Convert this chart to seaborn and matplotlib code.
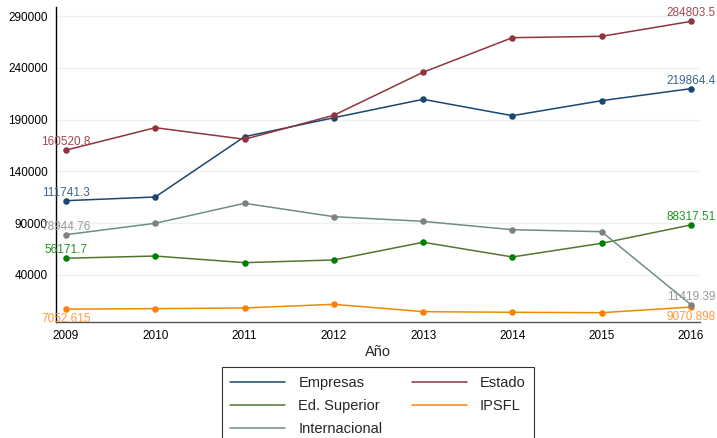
import pandas as pd
import matplotlib
matplotlib.use('Agg')
import matplotlib.pyplot as plt
import seaborn as sns

# Datos
anios = [2009, 2010, 2011, 2012, 2013, 2014, 2015, 2016]
empresas = [111741.3, 115300, 173500, 191800, 209600, 193800, 208300, 219864.4]
estado = [160520.8, 182200, 171000, 194200, 235700, 269100, 270400, 284803.5]
ed_superior = [56171.7, 58300, 51900, 54500, 71600, 57400, 70600, 88317.51]
ipsfl = [7052.615, 7500, 8150, 11700, 4600, 4000, 3600, 9070.898]
internacional = [78944.76, 89900, 109200, 96300, 91800, 83700, 81800, 11419.39]

y_ticks = [40000, 90000, 140000, 190000, 240000, 290000]

series = [
    # nombre, valores, color linea, color marcador, color etiqueta, etiqueta abajo
    ('Empresas', empresas, '#1a476f', '#1a476f', '#3d6591', False),
    ('Estado', estado, '#90353b', '#90353b', '#a5484f', False),
    ('Ed. Superior', ed_superior, '#55752f', '#008000', '#1f951f', False),
    ('IPSFL', ipsfl, '#f08a00', '#ff8000', '#ff9a3c', True),
    ('Internacional', internacional, '#6e8e84', '#808080', '#999999', False),
]

sns.set_style('white')
plt.rcParams['font.family'] = ['Liberation Sans', 'DejaVu Sans']

fig = plt.figure(figsize=(7.17, 4.38), dpi=100)
ax = fig.add_axes([0.0781, 0.2648, 0.8979, 0.7192])

for nombre, vals, c_line, c_mark, c_lab, abajo in series:
    df = pd.DataFrame({'Año': anios, 'Valor': vals})
    sns.lineplot(data=df, x='Año', y='Valor', ax=ax, color=c_line, linewidth=1.1,
                 label=nombre, zorder=3)
    sns.scatterplot(data=df, x='Año', y='Valor', ax=ax, color=c_mark, s=22,
                    edgecolor=c_mark, linewidth=0, zorder=4, legend=False)
    # etiquetas en el primer y ultimo punto
    for i in (0, len(anios) - 1):
        ax.annotate(str(vals[i]), (anios[i], vals[i]), xytext=(0, -3 if abajo else 1.5),
                    textcoords='offset points', ha='center',
                    va='top' if abajo else 'bottom', color=c_lab, fontsize=8.5, zorder=5)

ax.set_xlim(2008.888, 2016.1)
ax.set_ylim(-5400, 298700)
ax.set_xticks(anios)
ax.set_yticks(y_ticks)
ax.set_yticklabels([str(v) for v in y_ticks])
ax.tick_params(axis='both', labelsize=8.5, direction='out', length=4, width=0.8)
ax.tick_params(axis='y', colors='black', pad=2)
ax.tick_params(axis='x', color='#555555', labelcolor='black', pad=2)
ax.yaxis.grid(True, color='#eaf2f3', linewidth=1)
ax.xaxis.grid(False)
ax.set_xlabel('Año', fontsize=10.5, labelpad=2)
ax.set_ylabel('')

sns.despine(ax=ax)
ax.spines['left'].set_color('black')
ax.spines['left'].set_linewidth(1)
ax.spines['bottom'].set_color('#555555')
ax.spines['bottom'].set_linewidth(1)

h, l = ax.get_legend_handles_labels()
orden = ['Empresas', 'Ed. Superior', 'Internacional', 'Estado', 'IPSFL']
hh = [h[l.index(n)] for n in orden]
leg = ax.legend(hh, orden, loc='upper center', bbox_to_anchor=(0.5, -0.121), ncol=2,
                fontsize=10.5, frameon=True, fancybox=False, edgecolor='black',
                handlelength=3.77, handletextpad=0.9, columnspacing=2.0,
                labelspacing=0.62, borderpad=0.58)
leg.get_frame().set_linewidth(0.8)

fig.savefig('out.png', dpi=100)
